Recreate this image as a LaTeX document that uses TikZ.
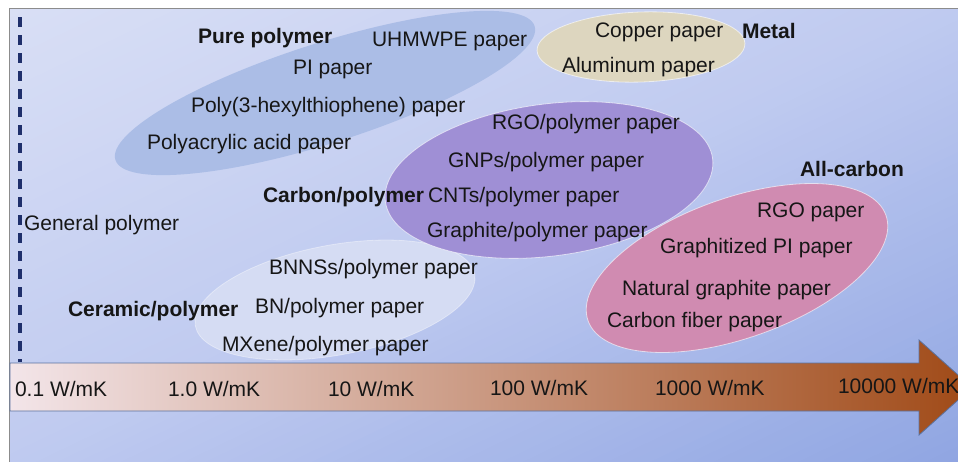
\documentclass[tikz,border=0pt]{standalone}
\usepackage{fontspec}
\setmainfont{Liberation Sans}
\definecolor{bgTop}{HTML}{D9DFF5}
\definecolor{bgMid}{HTML}{BFCAF0}
\definecolor{bgBot}{HTML}{8FA5E2}
\definecolor{framec}{HTML}{8C8C8C}
\definecolor{dashc}{HTML}{1F2F6B}
\definecolor{pureC}{HTML}{ABBDE6}
\definecolor{metalC}{HTML}{DDD6BF}
\definecolor{purpC}{HTML}{9F8FD5}
\definecolor{pinkC}{HTML}{D08BB1}
\definecolor{ceramC}{HTML}{D5DCF3}
\definecolor{arrL}{HTML}{F3E5E9}
\definecolor{arrM}{HTML}{C9957E}
\definecolor{arrR}{HTML}{A04A17}
\definecolor{arrB}{HTML}{5A72A0}
\definecolor{txt}{HTML}{161616}
\tikzset{
  lbl/.style={anchor=base west, inner sep=0pt, outer sep=0pt, text=txt, font=\fontsize{21}{24}\selectfont},
  hd/.style={lbl, font=\fontsize{21}{24}\selectfont\bfseries},
  blob/.style={draw=white, draw opacity=0.6, line width=0.8pt},
}
\begin{document}
\begin{tikzpicture}[x=1pt,y=-1pt]
\useasboundingbox (0,0) rectangle (958,461);
% background panel: diagonal gradient built from thin bands
\begin{scope}
  \clip (9.5,8.5) rectangle (962,465);
  \foreach \k in {0,...,89}{
    \pgfmathsetmacro{\bandA}{\k/45}
    \pgfmathsetmacro{\bandB}{(\k+1)/45+0.004}
    \pgfmathsetmacro{\bandT}{(\k+0.5)/90}
    \ifdim\bandT pt<0.5pt
      \pgfmathsetmacro{\bandP}{200*\bandT}
      \colorlet{bandc}{bgMid!\bandP!bgTop}
    \else
      \pgfmathsetmacro{\bandP}{200*\bandT-100}
      \colorlet{bandc}{bgBot!\bandP!bgMid}
    \fi
    \fill[bandc] ({9.5+952.5*\bandA},8.5) -- ({9.5+952.5*\bandB},8.5)
      -- ({9.5+952.5*(\bandB-2)},921.5) -- ({9.5+952.5*(\bandA-2)},921.5) -- cycle;
  }
\end{scope}
\draw[framec, line width=1pt] (9.5,466) -- (9.5,8.5) -- (962,8.5);
% ellipses
\fill[pureC, rotate around={17.7:(325,93)}] (325,93) ellipse [x radius=220pt, y radius=50pt];
\filldraw[blob, fill=metalC, rotate around={2:(641,47)}] (641,47) ellipse [x radius=104pt, y radius=35pt];
\filldraw[blob, fill=ceramC, draw opacity=0.4, rotate around={10.5:(335,300)}] (335,300) ellipse [x radius=142pt, y radius=55pt];
\filldraw[blob, fill=purpC, rotate around={7.5:(549,180)}] (549,180) ellipse [x radius=165pt, y radius=76pt];
\filldraw[blob, fill=pinkC, rotate around={19.5:(737,268)}] (737,268) ellipse [x radius=158pt, y radius=70pt];
% arrow
\shade[left color=arrL, middle color=arrM, right color=arrR, draw=arrB, line width=0.8pt]
  (10,363) -- (919,363) -- (919,340) -- (972,387.5) -- (919,435) -- (919,411) -- (10,411) -- cycle;
% dashed line
\coordinate (dtop) at (20,17);
\coordinate (dbot) at (20,362);
\draw[dashc, line width=3.2pt, dash pattern=on 10pt off 8pt] (dtop) -- (dbot);
% labels
\node[hd]  (pure)  at (198,43)  {Pure polymer};
\node[lbl] (uhm)   at (372,46)  {UHMWPE paper};
\node[lbl] (pi)    at (293,74)  {PI paper};
\node[lbl] (p3ht)  at (191,112) {Poly(3-hexylthiophene) paper};
\node[lbl] (paa)   at (147,149) {Polyacrylic acid paper};
\node[lbl] (cu)    at (595,37)  {Copper paper};
\node[hd]  (metal) at (742,38)  {Metal};
\node[lbl] (al)    at (562,72)  {Aluminum paper};
\node[lbl] (rgop)  at (492,129) {RGO/polymer paper};
\node[lbl] (gnp)   at (448,167) {GNPs/polymer paper};
\node[hd]  (cpol)  at (263,202) {Carbon/polymer};
\node[lbl] (cnt)   at (428,202) {CNTs/polymer paper};
\node[lbl] (grp)   at (427,237) {Graphite/polymer paper};
\node[hd]  (allc)  at (800,176) {All-carbon};
\node[lbl] (rgo)   at (757,217) {RGO paper};
\node[lbl] (gpi)   at (660,253) {Graphitized PI paper};
\node[lbl] (ngp)   at (622,295) {Natural graphite paper};
\node[lbl] (cfp)   at (607,327) {Carbon fiber paper};
\node[lbl] (gen)   at (24,230)  {General polymer};
\node[lbl] (bnns)  at (269,274) {BNNSs/polymer paper};
\node[hd]  (ceram) at (68,316)  {Ceramic/polymer};
\node[lbl] (bn)    at (255,313) {BN/polymer paper};
\node[lbl] (mx)    at (222,351) {MXene/polymer paper};
\node[lbl] (k1) at (15,396)  {0.1 W/mK};
\node[lbl] (k2) at (168,396) {1.0 W/mK};
\node[lbl] (k3) at (328,396) {10 W/mK};
\node[lbl] (k4) at (490,395) {100 W/mK};
\node[lbl] (k5) at (655,395) {1000 W/mK};
\node[lbl] (k6) at (838,393) {10000 W/mK};
\end{tikzpicture}
\end{document}
